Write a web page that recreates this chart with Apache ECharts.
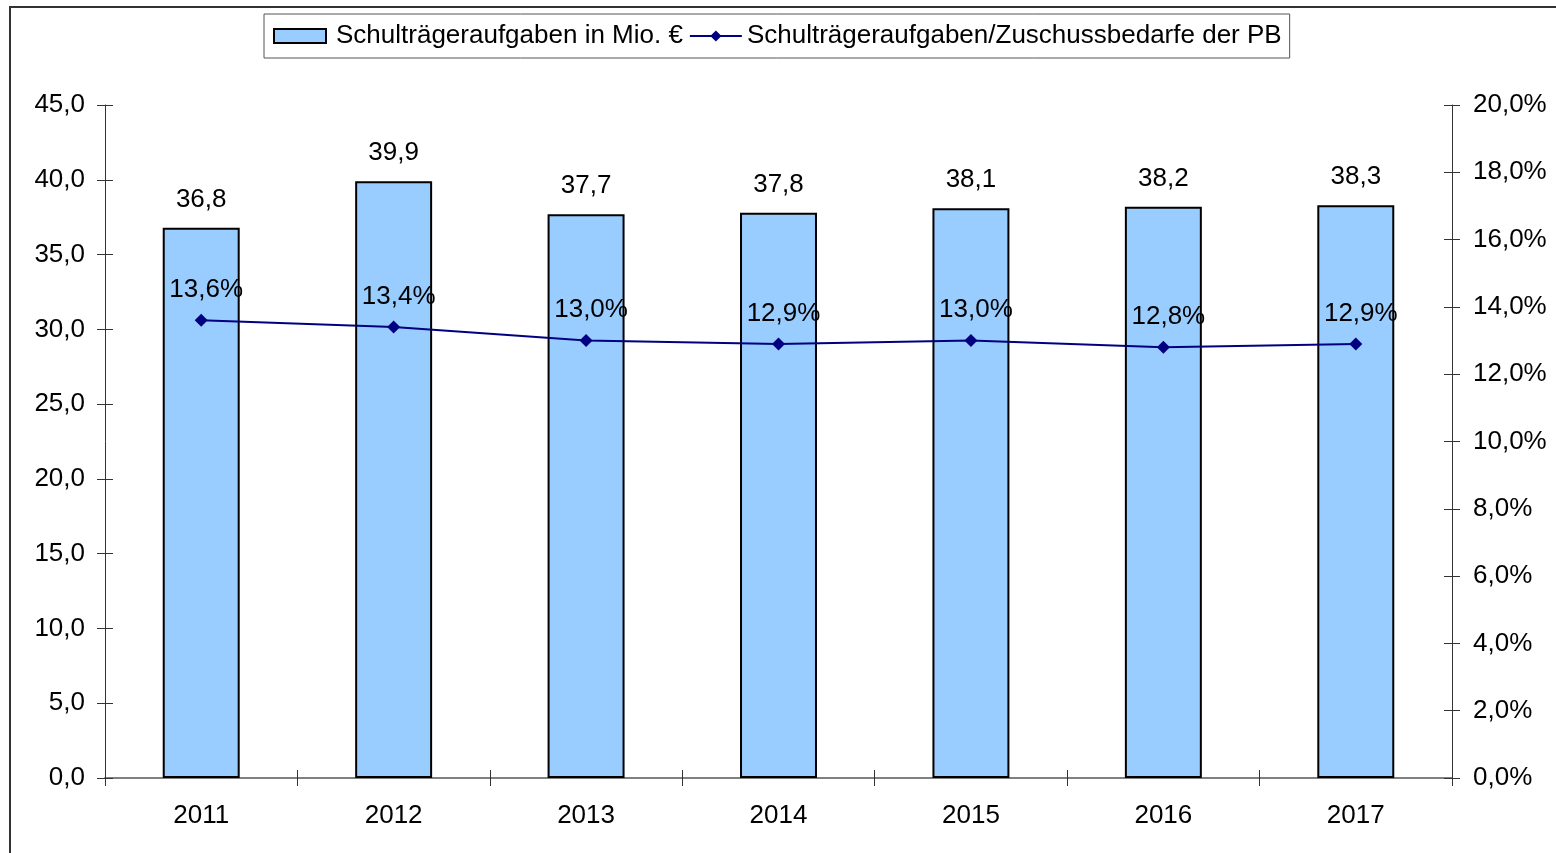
<!DOCTYPE html>
<html><head><meta charset="utf-8">
<script src="https://cdn.jsdelivr.net/npm/echarts@6/dist/echarts.min.js"></script>
<style>html,body{margin:0;padding:0;background:#fff}#c{width:1556px;height:853px}</style>
</head><body><div id="c"></div>
<script>
const categories = ['2011','2012','2013','2014','2015','2016','2017'];
const barValues = [36.8, 39.9, 37.7, 37.8, 38.1, 38.2, 38.3];
const lineValues = [13.6, 13.4, 13.0, 12.9, 13.0, 12.8, 12.9];
const barName = 'Schulträgeraufgaben in Mio. €';
const lineName = 'Schulträgeraufgaben/Zuschussbedarfe der PB';

const fmt1 = v => Number(v).toFixed(1).replace('.', ',');
const font = 'Liberation Sans';
const fs = 26;
const axisGray = '#808080';

const chart = echarts.init(document.getElementById('c'), null, {renderer: 'canvas'});
const leftBase = {type:'value', min:0, max:45, interval:5, position:'left', splitLine:{show:false}};
const rightBase = {type:'value', min:0, max:20, interval:2, position:'right', splitLine:{show:false}};
chart.setOption({
  animation: false,
  backgroundColor: '#fff',
  textStyle: {fontFamily: font},
  graphic: [{type:'rect', shape:{x:10, y:7, width:1600, height:900}, style:{fill:'none', stroke:'#333', lineWidth:2}, silent:true, z:-1}],
  legend: {
    left: 264, top: 14,
    padding: [9, 8, 9, 9],
    borderColor: '#555', borderWidth: 1,
    itemWidth: 52, itemHeight: 14, itemGap: 6,
    textStyle: {fontFamily: font, fontSize: fs, color: '#000'},
    data: [{name: barName, icon: 'rect', textStyle: {padding: [0, 0, 0, 5]}}, {name: lineName}]
  },
  grid: {left: 105, right: 104, top: 105, bottom: 75, containLabel: false},
  xAxis: [{
    type: 'category', data: categories,
    axisLine: {lineStyle: {color: axisGray, width: 2}},
    axisTick: {show: true, alignWithLabel: false, length: 8, lineStyle: {color: '#333'}},
    axisLabel: {color: '#000', fontSize: fs, fontFamily: font, margin: 25}
  },{
    type: 'category', data: categories, position: 'bottom',
    axisLine: {show: false},
    axisTick: {show: true, inside: true, length: 8, lineStyle: {color: '#333'}},
    axisLabel: {show: false}
  }],
  yAxis: [
    Object.assign({}, leftBase, {
      axisLine: {show: true, lineStyle: {color: '#333'}},
      axisTick: {show: true, length: 8, lineStyle: {color: '#333'}},
      axisLabel: {color: '#000', fontSize: fs, fontFamily: font, margin: 20, formatter: fmt1}
    }),
    Object.assign({}, rightBase, {
      axisLine: {show: true, lineStyle: {color: '#333'}},
      axisTick: {show: true, length: 8, lineStyle: {color: '#333'}},
      axisLabel: {color: '#000', fontSize: fs, fontFamily: font, margin: 21, formatter: v => fmt1(v) + '%'}
    }),
    Object.assign({}, leftBase, {
      axisLine: {show: false}, axisLabel: {show: false},
      axisTick: {show: true, inside: true, length: 8, lineStyle: {color: '#333'}}
    }),
    Object.assign({}, rightBase, {
      axisLine: {show: false}, axisLabel: {show: false},
      axisTick: {show: true, inside: true, length: 8, lineStyle: {color: '#333'}}
    })
  ],
  series: [{
    name: barName, type: 'bar', data: barValues, yAxisIndex: 0,
    barWidth: '40%',
    itemStyle: {color: '#99CCFF', borderColor: '#000', borderWidth: 2},
    label: {show: true, position: 'top', distance: 15, color: '#000', fontSize: fs, fontFamily: font, formatter: p => fmt1(p.value)}
  },{
    name: lineName, type: 'line', data: lineValues, yAxisIndex: 1,
    symbol: 'diamond', symbolSize: 13,
    lineStyle: {color: '#000080', width: 2},
    itemStyle: {color: '#000080'},
    label: {show: true, position: 'top', distance: 11, offset: [5, 0], color: '#000', fontSize: fs, fontFamily: font, formatter: p => fmt1(p.value) + '%'},
    z: 5
  }]
});
</script></body></html>
